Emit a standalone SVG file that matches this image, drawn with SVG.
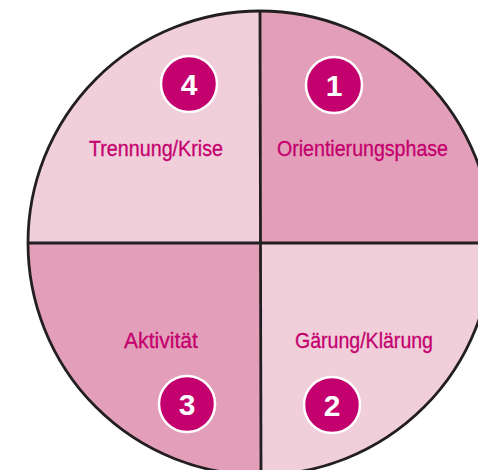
<svg xmlns="http://www.w3.org/2000/svg" width="478" height="470" viewBox="0 0 478 470">
<style>
.light{fill:#F0CEDA}
.dark{fill:#E39FB9}
.lbl{font-family:"Liberation Sans",Arial,sans-serif;font-size:22px;fill:#C4006E;stroke:#C4006E;stroke-width:0.3;text-anchor:start}
.badge{fill:#C4006E;stroke:#FFFFFF;stroke-width:2.5}
.num{font-family:"Liberation Sans",Arial,sans-serif;font-weight:bold;font-size:30px;fill:#FFFFFF;text-anchor:middle}
.line{stroke:#231F20;stroke-width:2.8;fill:none}
</style>
<defs>
<clipPath id="c"><circle cx="260" cy="243" r="232"/></clipPath>
</defs>
<rect width="478" height="470" fill="#FFFFFF"/>
<g clip-path="url(#c)">
<g id="q4"><rect class="light" x="20" y="0" width="240" height="243"/></g>
<g id="q1"><rect class="dark" x="260" y="0" width="240" height="243"/></g>
<g id="q3"><rect class="dark" x="20" y="243" width="240" height="240"/></g>
<g id="q2"><rect class="light" x="260" y="243" width="240" height="240"/></g>
</g>
<g id="connectors">
<circle class="line" cx="260" cy="243" r="232"/>
<line class="line" x1="260" y1="11" x2="261" y2="475"/>
<line class="line" x1="28" y1="243" x2="478" y2="243"/>
</g>
<g id="node4">
<circle class="badge" cx="189" cy="84" r="28"/>
<text class="num" x="189" y="95">4</text>
<text class="lbl" x="89" y="156" textLength="134" lengthAdjust="spacingAndGlyphs">Trennung/Krise</text>
</g>
<g id="node1">
<circle class="badge" cx="334" cy="85" r="28"/>
<text class="num" x="334" y="96">1</text>
<text class="lbl" x="277" y="156" textLength="171" lengthAdjust="spacingAndGlyphs">Orientierungsphase</text>
</g>
<g id="node3">
<circle class="badge" cx="187" cy="404" r="28"/>
<text class="num" x="187" y="415">3</text>
<text class="lbl" x="124" y="348" textLength="74" lengthAdjust="spacingAndGlyphs">Aktivität</text>
</g>
<g id="node2">
<circle class="badge" cx="332" cy="405" r="28"/>
<text class="num" x="332" y="416">2</text>
<text class="lbl" x="295" y="348" textLength="138" lengthAdjust="spacingAndGlyphs">Gärung/Klärung</text>
</g>
</svg>
